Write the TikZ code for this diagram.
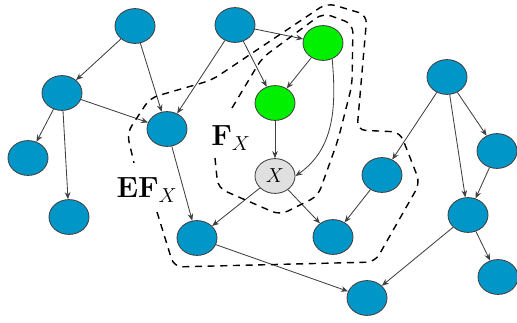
\documentclass[tikz,border=0pt]{standalone}
\usepackage{amsmath}
\usepackage{bm}
\usepackage[HTML]{xcolor}
\usepackage{tikz}
\usetikzlibrary{positioning, arrows, arrows.meta, shapes.geometric}

\definecolor{nodeblue}{HTML}{0096C8}
\definecolor{nodegreen}{HTML}{00F000}
\definecolor{nodegray}{HTML}{E0E0E0}
\definecolor{rim}{HTML}{404040}

\begin{document}
\begin{tikzpicture}[
    x=0.025cm, y=-0.025cm,
    >={Stealth[length=5pt,width=4pt]},
    vtx/.style={ellipse, draw=rim, line width=0.6pt, minimum width=1cm, minimum height=0.87cm, inner sep=0pt},
    bluev/.style={vtx, fill=nodeblue},
    greenv/.style={vtx, fill=nodegreen},
    grayv/.style={vtx, fill=nodegray, font=\fontsize{15}{18}\selectfont},
    edge/.style={->, draw=rim, line width=0.6pt},
    blanket/.style={dashed, line width=1pt, dash pattern=on 5pt off 4pt, rounded corners=6pt}
]
    \useasboundingbox (0,0) rectangle (517,322);

    % Define nodes
    \node[bluev] (A) at (135,26) {};
    \node[bluev] (B) at (62,93) {};
    \node[bluev] (C) at (167,129) {};
    \node[bluev] (D) at (28,158) {};
    \node[bluev] (E) at (69,217) {};
    \node[bluev] (P) at (235,25) {};
    \node[greenv] (G1) at (323,43) {};
    \node[greenv] (G2) at (275,103) {};
    \node[grayv] (X) at (275,176) {$X$};
    \node[bluev] (H) at (197,238) {};
    \node[bluev] (I) at (333,237) {};
    \node[bluev] (J) at (382,175) {};
    \node[bluev] (K) at (447,77) {};
    \node[bluev] (L) at (497,151) {};
    \node[bluev] (M) at (468,215) {};
    \node[bluev] (N) at (498,277) {};
    \node[bluev] (O) at (367,298) {};

    % Labels
    \node (fx) at (231,138) {\fontsize{21}{24}\selectfont$\mathbf{F}_X$};
    \node (efx) at (147,190) {\fontsize{21}{24}\selectfont$\mathbf{EF}_X$};

    % Draw arrows
    \draw[edge] (A) -- (B);
    \draw[edge] (A) -- (C);
    \draw[edge] (B) -- (C);
    \draw[edge] (B) -- (D);
    \draw[edge] (B) -- (E);
    \draw[edge] (P) -- (C);
    \draw[edge] (P) -- (G1);
    \draw[edge] (P) -- (G2);
    \draw[edge] (G1) -- (G2);
    \draw[edge] (G1.-60) to[out=-85, in=35] (X.east);
    \draw[edge] (G2) -- (X);
    \draw[edge] (C) -- (H);
    \draw[edge] (X) -- (H);
    \draw[edge] (X) -- (I);
    \draw[edge] (J) -- (I);
    \draw[edge] (K) -- (J);
    \draw[edge] (K) -- (L);
    \draw[edge] (K) -- (M);
    \draw[edge] (L) -- (M);
    \draw[edge] (M) -- (N);
    \draw[edge] (M) -- (O);
    \draw[edge] (H) -- (O);

    % Blankets
    \draw[blanket] (215,158) -- (218,188) -- (280,215) -- (318,196) -- (338,140)
        -- (352,85) -- (353,24) -- (323,13) -- (262,58) -- (232,108);
    \draw[blanket] (157,212) -- (174,267) -- (375,262) -- (420,183) -- (400,132)
        -- (357,130) -- (367,15) -- (327,3) -- (212,80) -- (150,98) -- (127,133) -- (134,163);
\end{tikzpicture}
\end{document}
